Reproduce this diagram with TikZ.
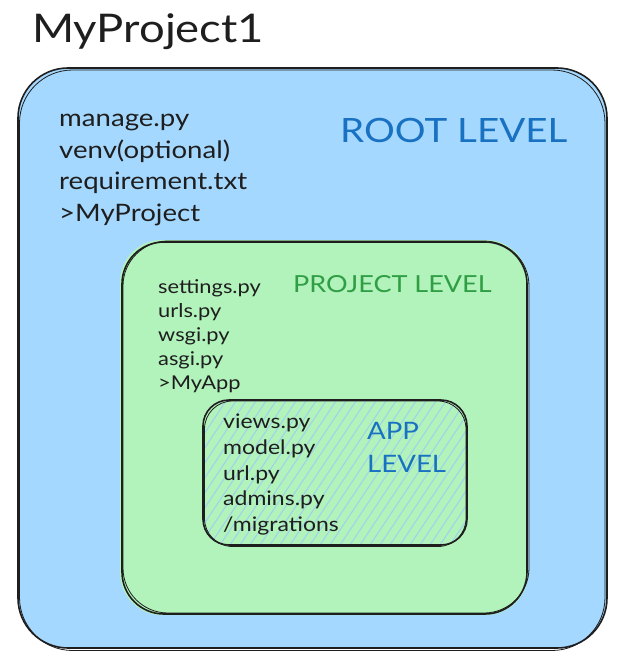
\documentclass[tikz,border=0pt]{standalone}
\usepackage{fontspec}
\setmainfont{Lato}[FakeStretch=1.15]
\definecolor{rootfill}{HTML}{A5D8FF}
\definecolor{projfill}{HTML}{B2F2BB}
\definecolor{hatchblue}{HTML}{9CCFF2}
\definecolor{bluetext}{HTML}{1971C2}
\definecolor{greentext}{HTML}{2F9E44}
\definecolor{ink}{HTML}{1E1E1E}
\tikzset{
  lbl/.style={anchor=base west, inner sep=0pt, text=ink},
  boxline/.style={draw=ink, line width=1.6pt},
  boxline2/.style={draw=ink, line width=0.8pt},
  hatchline/.style={draw=hatchblue, line width=0.9pt},
}
\begin{document}
\begin{tikzpicture}[x=1pt,y=-1pt]
\useasboundingbox (0,0) rectangle (624,661);
% outer box
\fill[rootfill, rounded corners=50pt] (18,68) rectangle (607,648);
\draw[boxline, rounded corners=50pt] (18,68) rectangle (607,648);
\draw[boxline2, rounded corners=53pt] (19.5,70) rectangle (605,650.5);
% project box
\fill[projfill, rounded corners=42pt] (120,240) rectangle (528,615);
\draw[boxline, rounded corners=42pt] (122,242) rectangle (527,614);
\draw[boxline2, rounded corners=45pt] (123,241) rectangle (529,613);
% app box
\begin{scope}
\clip[rounded corners=26pt] (203,400) rectangle (467,545);
\foreach \i in {0,...,45} {
  \draw[hatchline] (120+\i*10,560) -- ++(120,-180);
}
\end{scope}
\draw[boxline, rounded corners=26pt] (203,400) rectangle (467,545);
\draw[boxline2, rounded corners=28pt] (204.5,401) rectangle (466,546.5);
% title
\node[lbl, font=\fontsize{39.5}{42}\selectfont] (title) at (32,43) {MyProject1};
% root
\node[lbl, font=\fontsize{24}{28}\selectfont] (r1) at (59,126) {manage.py};
\node[lbl, font=\fontsize{24}{28}\selectfont] (r2) at (59,158) {venv(optional)};
\node[lbl, font=\fontsize{24}{28}\selectfont] (r3) at (59,189) {requirement.txt};
\node[lbl, font=\fontsize{24}{28}\selectfont] (r4) at (59,221) {>MyProject};
\node[lbl, text=bluetext, font=\fontsize{33.5}{36}\selectfont] (rootlvl) at (340,142) {ROOT LEVEL};
% project
\node[lbl, font=\fontsize{19}{22}\selectfont] (p1) at (158,293) {settings.py};
\node[lbl, font=\fontsize{19}{22}\selectfont] (p2) at (158,317) {urls.py};
\node[lbl, font=\fontsize{19}{22}\selectfont] (p3) at (158,341) {wsgi.py};
\node[lbl, font=\fontsize{19}{22}\selectfont] (p4) at (158,365) {asgi.py};
\node[lbl, font=\fontsize{19}{22}\selectfont] (p5) at (158,389) {>MyApp};
\node[lbl, text=greentext, font=\fontsize{23.5}{26}\selectfont] (projlvl) at (293,292) {PROJECT LEVEL};
% app
\node[lbl, font=\fontsize{20}{24}\selectfont] (a1) at (223,428) {views.py};
\node[lbl, font=\fontsize{20}{24}\selectfont] (a2) at (223,454) {model.py};
\node[lbl, font=\fontsize{20}{24}\selectfont] (a3) at (223,480) {url.py};
\node[lbl, font=\fontsize{20}{24}\selectfont] (a4) at (223,505) {admins.py};
\node[lbl, font=\fontsize{20}{24}\selectfont] (a5) at (223,531) {/migrations};
\node[lbl, text=bluetext, font=\fontsize{24}{28}\selectfont] (applvl1) at (367,439) {APP};
\node[lbl, text=bluetext, font=\fontsize{24}{28}\selectfont] (applvl2) at (367,472) {LEVEL};
\end{tikzpicture}
\end{document}
